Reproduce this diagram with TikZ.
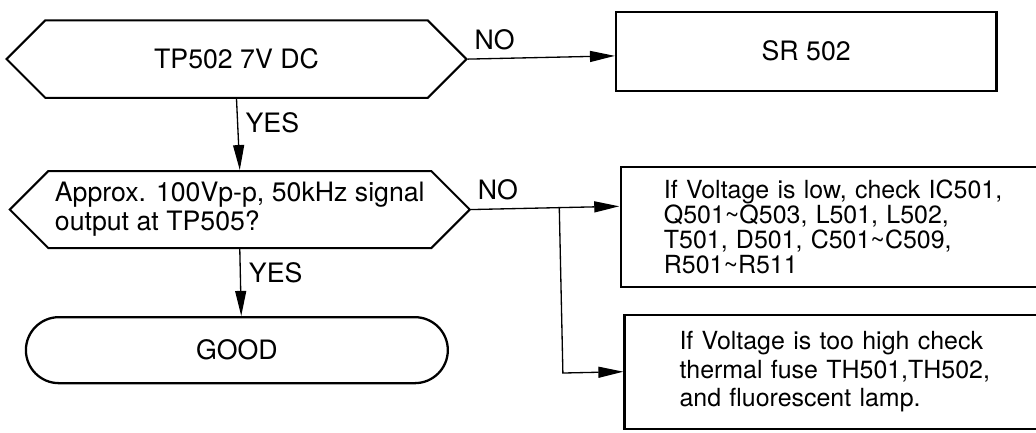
\documentclass[tikz,border=0pt]{standalone}
\usepackage{fontspec}
\setmainfont{TeX Gyre Heros}
\usetikzlibrary{arrows.meta,shapes.symbols}
\begin{document}
\begin{tikzpicture}[x=0.02cm,y=-0.02cm,
    every node/.style={font=\fontsize{15.2}{16.5}\selectfont},
    query/.style={draw,line width=1.15pt,shape=signal,signal to=west and east,signal pointer angle=90,inner sep=0pt,minimum width=9.2cm},
    outbox/.style={draw,line width=1.3pt},
    checkbox/.style={draw,line width=1.3pt,anchor=west,minimum width=9.2cm,align=left},
    lbl/.style={inner sep=0pt,pos=0},
    link/.style={->,line width=0.75pt},
    >={Triangle[length=0.5cm,width=0.22cm]}]
    \useasboundingbox (0,0) rectangle (1036,433);
    \begin{scope}[rotate around={1.25:(518,216)}]
        \node[query,minimum height=1.55cm] (q1) at (240,53) {TP502 7V DC};
        \node[outbox,minimum width=7.61cm,minimum height=1.58cm] (sr) at (809.75,57.5) {SR 502};
        \node[query,minimum height=1.54cm,align=left] (q2) at (240,203.5) {Approx. 100Vp-p, 50kHz signal\\output at TP505?};
        \node[outbox,rounded corners=0.66cm,minimum width=8.44cm,minimum height=1.32cm] (good) at (234,344) {GOOD};
        \node[checkbox,minimum height=2.4cm,text width=7.48cm,inner xsep=0.86cm,font=\fontsize{14.2}{14.2}\selectfont] (low) at (619.5,229)
            {If Voltage is low, check IC501,\\Q501\textasciitilde Q503, L501, L502,\\T501, D501, C501\textasciitilde C509,\\R501\textasciitilde R511};
        \node[checkbox,minimum height=2.28cm,text width=7cm,inner xsep=1.1cm,font=\fontsize{14.2}{16.2}\selectfont] (high) at (620,374)
            {If Voltage is too high check\\thermal fuse TH501,TH502,\\and fluorescent lamp.};
        \draw[link] (q1.east) -- node[lbl,anchor=south west,xshift=0.12cm,yshift=0.17cm] {NO} (q1.east -| sr.west);
        \draw[link] (q1.south) -- node[lbl,anchor=north west,xshift=0.17cm,yshift=-0.26cm] {YES} (q2.north);
        \draw[link] (q2.east) -- node[lbl,anchor=south west,xshift=0.12cm,yshift=0.17cm] {NO} (q2.east -| low.west);
        \draw[link] (q2.south) -- node[lbl,anchor=north west,xshift=0.17cm,yshift=-0.26cm] {YES} (q2.south |- good.north);
        \coordinate (fork) at (559.5,0);
        \draw[link] (fork |- q2.east) |- (high.west);
    \end{scope}
\end{tikzpicture}
\end{document}
